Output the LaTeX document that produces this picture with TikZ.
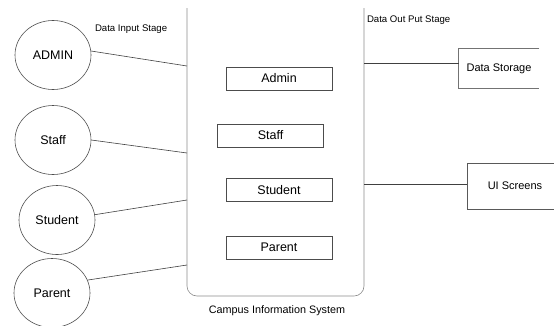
\documentclass[tikz,border=0pt]{standalone}
\usepackage{fontspec}
\setmainfont{Liberation Sans}
\usetikzlibrary{shapes.geometric}

\tikzset{every picture/.style={line width=0.6pt}}
\tikzset{
  actor/.style={draw=black!70, ellipse, minimum width=76, minimum height=69, inner sep=0pt, font=\fontsize{12.5}{15}\selectfont},
  module/.style={draw=black!70, minimum width=106, minimum height=23, inner sep=0pt, font=\fontsize{12.5}{15}\selectfont},
  stage/.style={inner sep=0.75pt, font=\fontsize{9.6}{11}\selectfont},
  link/.style={draw=black!75}
}

\begin{document}
\begin{tikzpicture}[x=1pt,y=1pt,yscale=-1,xscale=1]
\useasboundingbox (0,0) rectangle (554,325);

%Shape: Rounded box, open at the top [id:system]
\draw [draw=black!45, rounded corners=10] (187,8) |- (364,296) -- (364,8) ;
\coordinate (in1) at (187,66) ;
\coordinate (in2) at (187,153) ;
\coordinate (in3) at (187,200) ;
\coordinate (in4) at (187,265) ;
\coordinate (out1) at (364,63) ;
\coordinate (out2) at (364,184) ;

%Shape: Circles
\node [actor] (admin) at (53,55) {ADMIN};
\node [actor] (staff) at (53,140) {Staff};
\node [actor] (student) at (57,220) {Student};
\node [actor] (parent) at (52,293) {Parent};

%Shape: Rectangles
\node [module] (madmin) at (279,78.5) {Admin};
\node [module] (mstaff) at (270.5,135.5) {Staff};
\node [module] (mstudent) at (279,190) {Student};
\node [module] (mparent) at (279,247.5) {Parent};

%Shape: Data Storage, open at the right
\node [inner sep=0pt, minimum width=80, minimum height=39, font=\fontsize{11}{13}\selectfont] (storage) at (499,68.5) {Data Storage};
\draw [draw=black!55] (storage.north east) -- (storage.north west) -- (storage.south west) -- (storage.south east) ;
%Shape: UI Screens
\node [draw=black!65, inner sep=0pt, minimum width=96, minimum height=46, font=\fontsize{11}{13}\selectfont] (screens) at (515,186) {UI Screens};

%Straight Lines
\draw [link] (admin.6) -- (in1) ;
\draw [link] (staff.0) -- (in2) ;
\draw [link] (student.8) -- (in3) ;
\draw [link] (parent.20) -- (in4) ;
\draw [link] (out1) -- (out1 -| storage.west) ;
\draw [link] (out2) -- (out2 -| screens.west) ;

% Text Node
\node [stage, anchor=west] (instage) at (94,29) {Data Input Stage};
% Text Node
\node [stage, anchor=west] (outstage) at (366,20) {Data Out Put Stage};
% Text Node
\node [inner sep=0.75pt, font=\fontsize{10.8}{13}\selectfont] (sysname) at (277,311) {Campus Information System};
\end{tikzpicture}
\end{document}
